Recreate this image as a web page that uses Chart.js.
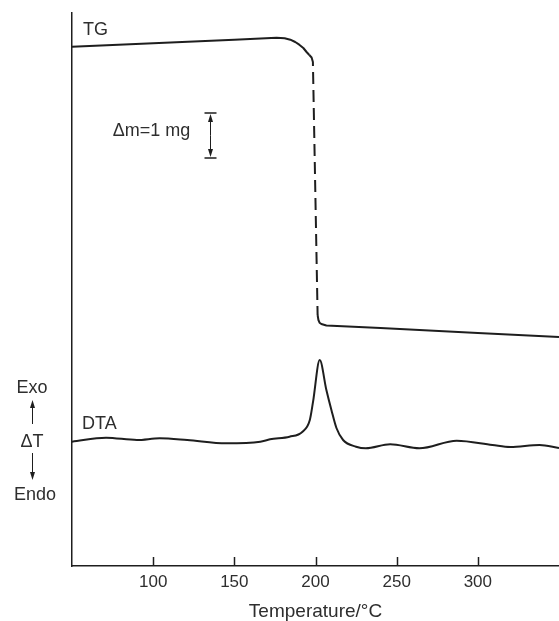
<!DOCTYPE html>
<html>
<head>
<meta charset="utf-8">
<script src="https://cdn.jsdelivr.net/npm/chart.js@4/dist/chart.umd.min.js"></script>
<style>
  body { margin: 0; background: #fff; }
  canvas { display: block; }
</style>
</head>
<body>
<canvas id="taChart" width="559" height="621"></canvas>
<script>
// temperatures in °C, signals in arbitrary units (1 mg = 45 units on the TG trace)
const tgTemp   = [50, 100, 150, 176, 181, 184.5, 187.5, 190, 192.5, 194.5, 196.2, 197.6, 198.4, 201.3, 201.8, 202.5, 203.6, 206.7, 240, 300, 350];
const tgSignal = [519.3, 522.8, 526.3, 528.2, 527.8, 526.3, 524, 521.3, 518, 514, 511, 508.5, 504, 251, 246, 243.3, 242, 240.5, 238, 233, 229];

const dtaTemp   = [50, 71, 90, 104, 121, 145, 166, 172, 184, 192, 196.5, 198.5, 202.6, 206.7, 209.8, 212.9, 217, 225, 231, 246, 264, 287, 309, 320, 338, 350];
const dtaSignal = [124.3, 128.3, 126, 127.7, 126, 122.7, 124.3, 126.7, 129.3, 134.3, 146, 164.3, 206, 176, 156, 138, 126, 119.3, 117.7, 121.7, 117.7, 125.3, 121, 119, 121, 118];

const xTicks = [100, 150, 200, 250, 300];

const ink = "#1e1e1e";
const textInk = "#2e2e2e";
const fontFamily = "'Liberation Sans', Arial, Helvetica, sans-serif";

function toPoints(xs, ys) {
    return xs.map((x, i) => ({ x: x, y: ys[i] }));
}

function arrow(ctx, x, y1, y2) {
    // line from y1 to y2 with a filled head at y2
    const dir = y2 > y1 ? 1 : -1;
    ctx.beginPath();
    ctx.moveTo(x, y1);
    ctx.lineTo(x, y2 - dir * 6);
    ctx.stroke();
    ctx.beginPath();
    ctx.moveTo(x, y2);
    ctx.lineTo(x - 2.5, y2 - dir * 8);
    ctx.lineTo(x + 2.5, y2 - dir * 8);
    ctx.closePath();
    ctx.fill();
}

const annotationPlugin = {
    id: "taAnnotations",
    afterDraw(chart) {
        const ctx = chart.ctx;
        const xs = chart.scales.x;
        const ys = chart.scales.y;
        const area = chart.chartArea;
        ctx.save();
        ctx.strokeStyle = ink;
        ctx.fillStyle = ink;

        // inward tick marks
        ctx.lineWidth = 1.5;
        xTicks.forEach(t => {
            const px = Math.round(xs.getPixelForValue(t)) + 0.5;
            ctx.beginPath();
            ctx.moveTo(px, area.bottom);
            ctx.lineTo(px, area.bottom - 9);
            ctx.stroke();
        });

        ctx.fillStyle = textInk;
        ctx.font = "18px " + fontFamily;
        ctx.textBaseline = "middle";

        // curve labels
        ctx.textAlign = "left";
        ctx.fillText("TG", xs.getPixelForValue(56.8), ys.getPixelForValue(536));
        ctx.fillText("DTA", xs.getPixelForValue(56.2), ys.getPixelForValue(142));

        // mass scale bar
        ctx.textAlign = "right";
        ctx.fillText("\u0394m=1 mg", xs.getPixelForValue(122.8), ys.getPixelForValue(435));
        const bx = Math.round(xs.getPixelForValue(134.9)) + 0.5;
        const bTop = ys.getPixelForValue(453);
        const bBot = ys.getPixelForValue(408);
        ctx.fillStyle = ink;
        ctx.lineWidth = 1.5;
        ctx.beginPath();
        ctx.moveTo(bx - 6, bTop); ctx.lineTo(bx + 6, bTop);
        ctx.moveTo(bx - 6, bBot); ctx.lineTo(bx + 6, bBot);
        ctx.stroke();
        ctx.lineWidth = 1;
        const bMid = (bTop + bBot) / 2;
        arrow(ctx, bx, bMid, bTop + 1);
        arrow(ctx, bx, bMid, bBot - 1);

        // Exo / dT / Endo labels left of the axis
        const lx = area.left - 40;
        ctx.fillStyle = textInk;
        ctx.textAlign = "center";
        ctx.fillText("Exo", lx, ys.getPixelForValue(178));
        ctx.fillText("\u0394T", lx, ys.getPixelForValue(124));
        ctx.fillText("Endo", lx + 3, ys.getPixelForValue(71));
        ctx.fillStyle = ink;
        ctx.lineWidth = 1;
        arrow(ctx, lx + 0.5, ys.getPixelForValue(142), ys.getPixelForValue(166));
        arrow(ctx, lx + 0.5, ys.getPixelForValue(113), ys.getPixelForValue(86));

        ctx.restore();
    }
};

// the fast mass-loss step is drawn dashed
const tgDashFrom = 195;
const tgDashTo = 201.3;

new Chart(document.getElementById("taChart"), {
    type: "line",
    data: {
        datasets: [{
            label: "TG",
            data: toPoints(tgTemp, tgSignal),
            borderColor: ink,
            borderWidth: 2,
            pointRadius: 0,
            tension: 0,
            borderJoinStyle: "round",
            segment: {
                borderDash: c => (c.p0.parsed.x >= tgDashFrom && c.p0.parsed.x < tgDashTo) ? [12, 6] : undefined
            }
        }, {
            label: "DTA",
            data: toPoints(dtaTemp, dtaSignal),
            borderColor: ink,
            borderWidth: 2,
            pointRadius: 0,
            cubicInterpolationMode: "monotone"
        }]
    },
    options: {
        responsive: false,
        animation: false,
        layout: { autoPadding: false, padding: { left: 72, top: 13, right: 0, bottom: 0 } },
        plugins: {
            legend: { display: false },
            tooltip: { enabled: false }
        },
        scales: {
            x: {
                type: "linear",
                min: 50,
                max: 350,
                // tick marks are drawn inward by the plugin; tickLength only spaces the labels
                grid: { display: false, drawTicks: true, tickLength: 6 },
                border: { display: true, color: ink, width: 1.5 },
                ticks: {
                    stepSize: 50,
                    autoSkip: false,
                    maxRotation: 0,
                    padding: 0,
                    color: textInk,
                    font: { family: fontFamily, size: 17 },
                    callback: v => xTicks.includes(v) ? String(v) : ""
                },
                title: {
                    display: true,
                    text: "Temperature/\u00b0C",
                    color: textInk,
                    font: { family: fontFamily, size: 19 },
                    padding: { top: 7.8, bottom: -2 }
                }
            },
            y: {
                type: "linear",
                min: 0,
                max: 553,
                grid: { display: false, drawTicks: false },
                border: { display: true, color: ink, width: 1.5 },
                ticks: { display: false }
            }
        }
    },
    plugins: [annotationPlugin]
});
</script>
</body>
</html>
